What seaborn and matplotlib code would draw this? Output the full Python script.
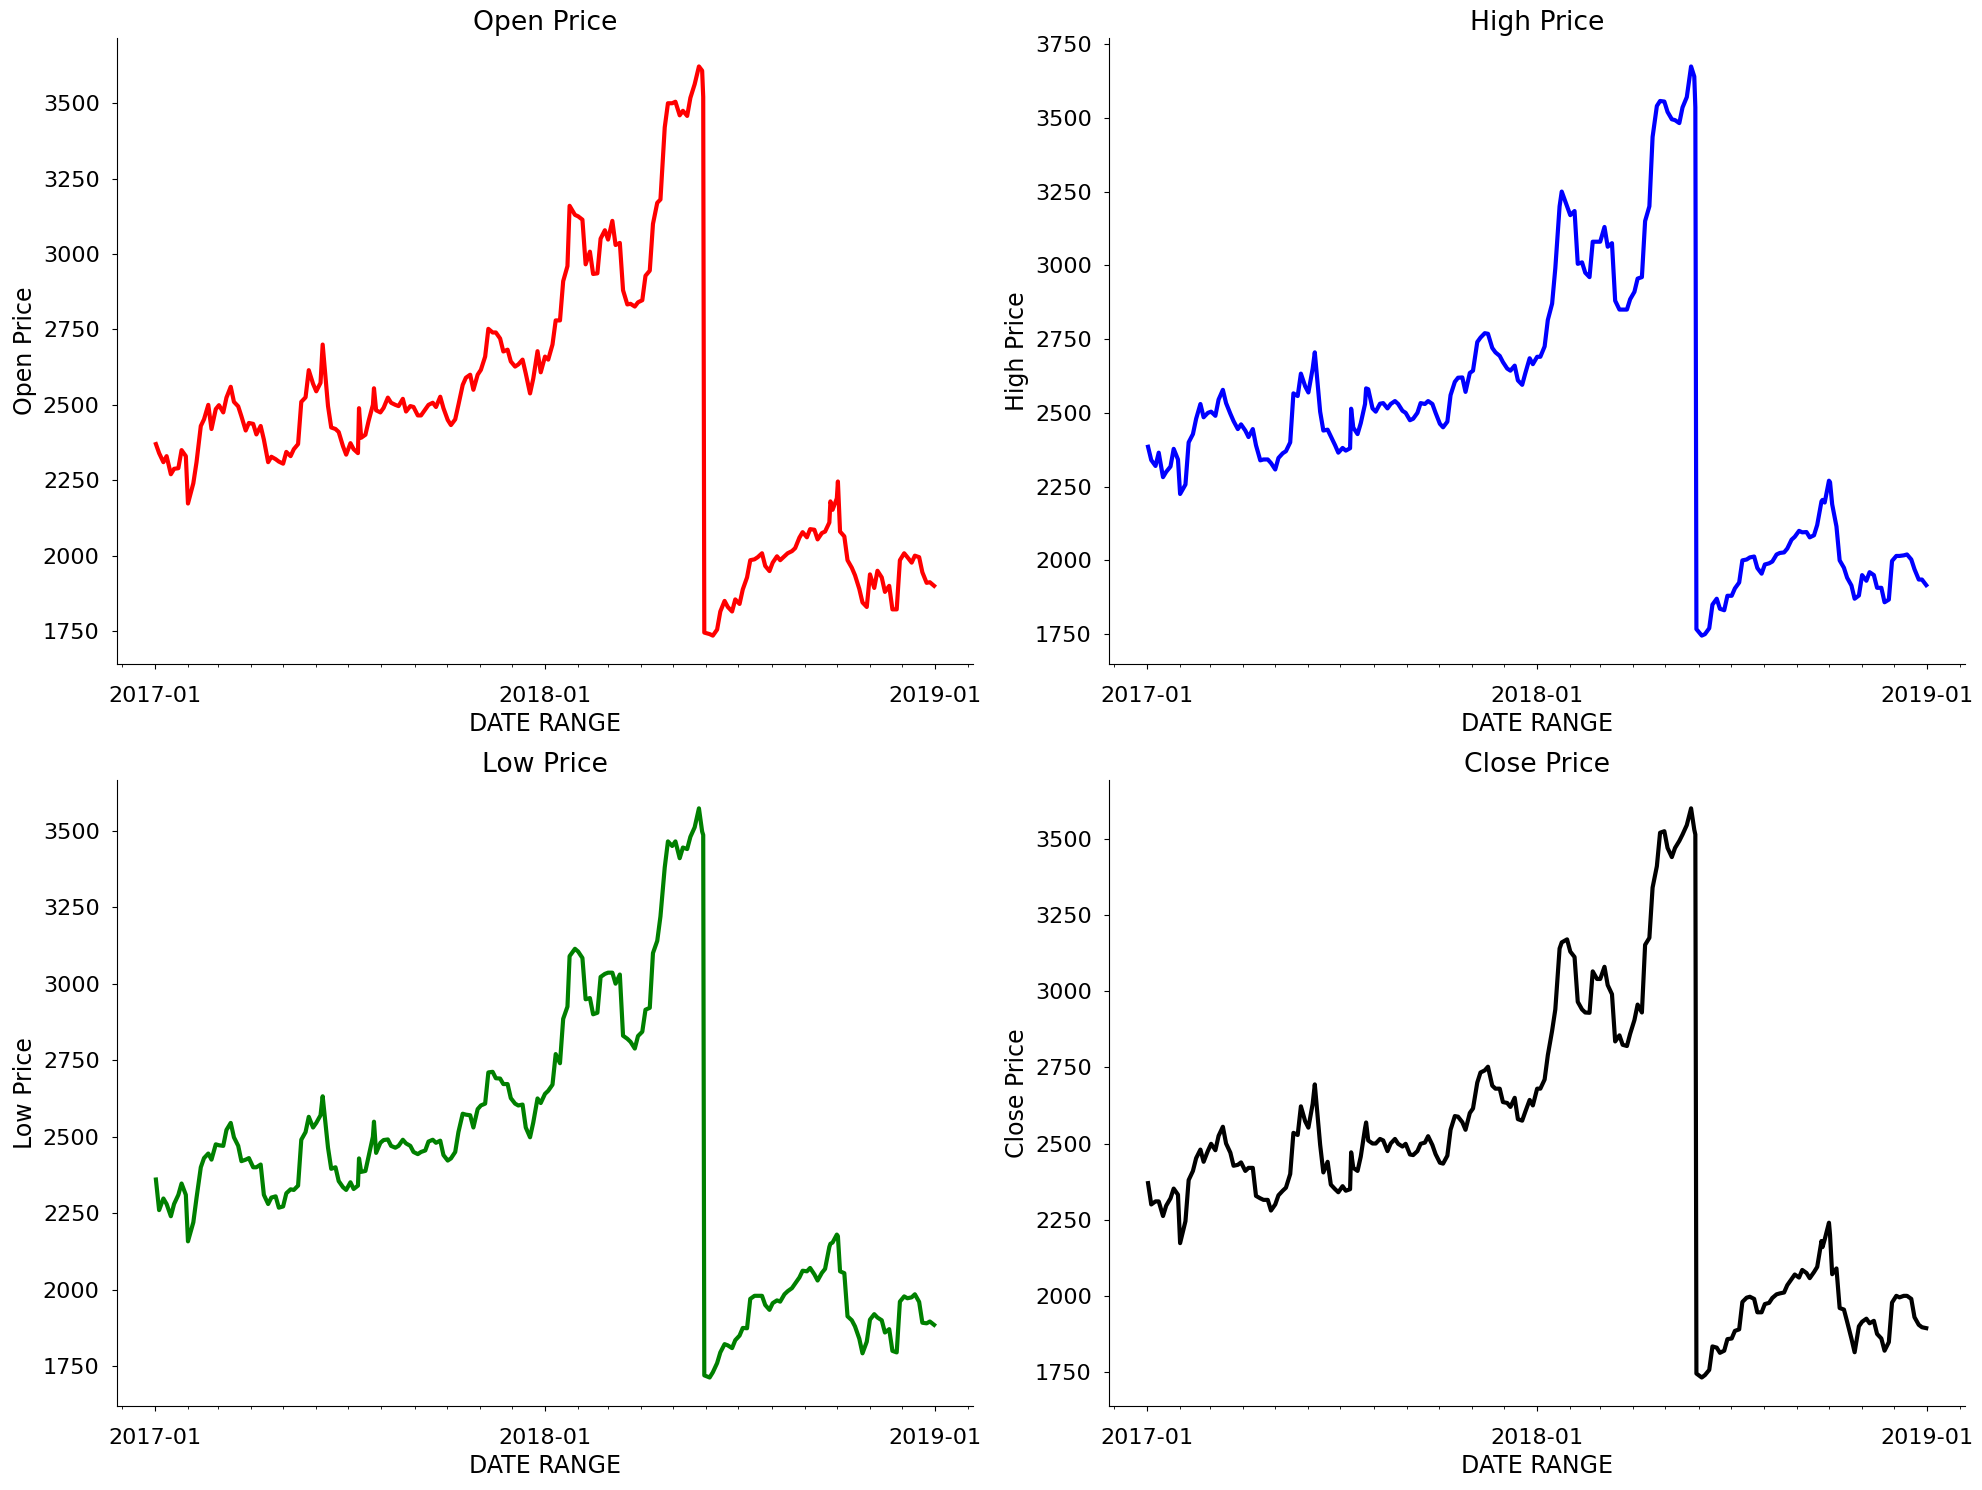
import matplotlib
matplotlib.use("Agg")
import matplotlib.pyplot as plt
import matplotlib.dates as mdates
from matplotlib.ticker import MultipleLocator
import seaborn as sns
import pandas as pd

# ---- readings on Mondays (plus a few spike / split days) ----
dates = [
    "2017-01-02", "2017-01-09", "2017-01-16", "2017-01-23", "2017-01-30",
    "2017-02-01", "2017-02-06", "2017-02-13", "2017-02-20", "2017-02-27",
    "2017-03-06", "2017-03-13", "2017-03-20", "2017-03-27",
    "2017-04-03", "2017-04-10", "2017-04-17", "2017-04-24",
    "2017-05-01", "2017-05-08", "2017-05-15", "2017-05-22", "2017-05-29",
    "2017-06-05", "2017-06-07", "2017-06-12", "2017-06-19", "2017-06-26",
    "2017-07-03", "2017-07-10", "2017-07-11", "2017-07-17", "2017-07-24", "2017-07-25", "2017-07-31",
    "2017-08-07", "2017-08-14", "2017-08-21", "2017-08-28",
    "2017-09-04", "2017-09-11", "2017-09-18", "2017-09-25",
    "2017-10-02", "2017-10-09", "2017-10-16", "2017-10-23", "2017-10-30",
    "2017-11-06", "2017-11-13", "2017-11-20", "2017-11-27",
    "2017-12-04", "2017-12-11", "2017-12-18", "2017-12-25",
    "2018-01-01", "2018-01-08", "2018-01-15", "2018-01-22", "2018-01-24", "2018-01-29",
    "2018-02-05", "2018-02-12", "2018-02-19", "2018-02-26",
    "2018-03-05", "2018-03-12", "2018-03-19", "2018-03-26",
    "2018-04-02", "2018-04-09", "2018-04-16", "2018-04-23", "2018-04-30",
    "2018-05-07", "2018-05-14", "2018-05-21", "2018-05-25", "2018-05-28", "2018-05-29", "2018-05-30",
    "2018-06-04", "2018-06-11", "2018-06-18", "2018-06-25",
    "2018-07-02", "2018-07-09", "2018-07-16", "2018-07-23", "2018-07-30",
    "2018-08-06", "2018-08-13", "2018-08-20", "2018-08-27",
    "2018-09-03", "2018-09-10", "2018-09-17", "2018-09-24", "2018-09-25",
    "2018-10-01", "2018-10-02", "2018-10-08", "2018-10-15", "2018-10-22", "2018-10-29",
    "2018-11-05", "2018-11-12", "2018-11-19", "2018-11-26",
    "2018-12-03", "2018-12-10", "2018-12-17", "2018-12-24", "2018-12-31",
]

open_price = [
    2370, 2310, 2270, 2290, 2330,
    2173, 2240, 2430, 2500, 2486,
    2475, 2560, 2495, 2415,
    2437, 2430, 2310, 2320,
    2305, 2330, 2370, 2525, 2570,
    2573, 2700, 2496, 2420, 2363,
    2373, 2340, 2489, 2401, 2500, 2555, 2475,
    2524, 2500, 2520, 2496,
    2465, 2485, 2507, 2527,
    2450, 2452, 2566, 2600, 2600,
    2660, 2740, 2720, 2683,
    2627, 2650, 2538, 2678,
    2660, 2700, 2780, 2960, 3160, 3130,
    3114, 3008, 2936, 3079,
    3110, 3037, 2833, 2826,
    2847, 2945, 3170, 3420, 3500,
    3460, 3458, 3563, 3622, 3608, 3521, 1745,
    1740, 1755, 1850, 1815,
    1840, 1928, 1988, 2008, 1949,
    1998, 1998, 2015, 2060,
    2061, 2086, 2075, 2110, 2180,
    2190, 2246, 2064, 1960, 1890, 1830,
    1893, 1928, 1900, 1822,
    2008, 1977, 1995, 1910, 1900,
]

high_price = [
    2385, 2320, 2282, 2318, 2342,
    2225, 2257, 2428, 2530, 2500,
    2490, 2578, 2497, 2445,
    2440, 2445, 2339, 2342,
    2308, 2363, 2400, 2557, 2590,
    2650, 2705, 2504, 2443, 2390,
    2381, 2380, 2514, 2428, 2530, 2583, 2515,
    2531, 2515, 2540, 2507,
    2475, 2500, 2530, 2530,
    2463, 2470, 2605, 2620, 2635,
    2740, 2770, 2720, 2693,
    2650, 2660, 2595, 2685,
    2690, 2725, 2870, 3200, 3250, 3200,
    3184, 3010, 2960, 3080,
    3130, 3075, 2850, 2850,
    2910, 2960, 3200, 3540, 3555,
    3495, 3482, 3570, 3674, 3640, 3535, 1767,
    1745, 1770, 1870, 1831,
    1880, 1925, 2003, 2013, 1955,
    1990, 2020, 2027, 2070,
    2100, 2096, 2085, 2200, 2205,
    2270, 2265, 2115, 1975, 1915, 1881,
    1931, 1950, 1907, 1867,
    2015, 2017, 2003, 1935, 1916,
]

low_price = [
    2360, 2298, 2240, 2310, 2310,
    2158, 2220, 2400, 2445, 2475,
    2470, 2545, 2470, 2425,
    2400, 2409, 2280, 2305,
    2272, 2328, 2340, 2515, 2530,
    2570, 2632, 2464, 2400, 2335,
    2351, 2340, 2429, 2388, 2500, 2549, 2480,
    2491, 2464, 2490, 2470,
    2443, 2455, 2490, 2487,
    2422, 2450, 2575, 2570, 2590,
    2608, 2712, 2690, 2672,
    2608, 2605, 2498, 2625,
    2640, 2670, 2740, 2925, 3090, 3114,
    3084, 2953, 2905, 3032,
    3036, 3030, 2820, 2788,
    2843, 2921, 3140, 3380, 3450,
    3410, 3440, 3511, 3573, 3497, 3486, 1720,
    1713, 1760, 1822, 1809,
    1850, 1874, 1980, 1980, 1934,
    1965, 1985, 2005, 2040,
    2060, 2050, 2055, 2140, 2150,
    2180, 2175, 2054, 1900, 1840, 1830,
    1920, 1900, 1871, 1795,
    1978, 1975, 1960, 1890, 1885,
]

close_price = [
    2370, 2310, 2262, 2320, 2332,
    2173, 2245, 2410, 2480, 2476,
    2478, 2555, 2470, 2430,
    2410, 2420, 2320, 2315,
    2300, 2345, 2400, 2528, 2573,
    2630, 2694, 2496, 2440, 2350,
    2360, 2350, 2471, 2410, 2550, 2569, 2500,
    2515, 2475, 2515, 2490,
    2464, 2475, 2503, 2495,
    2437, 2460, 2590, 2570, 2600,
    2700, 2740, 2690, 2680,
    2633, 2650, 2575, 2643,
    2680, 2710, 2870, 3140, 3160, 3170,
    3112, 2940, 2929, 3040,
    3080, 2990, 2855, 2820,
    2905, 2930, 3175, 3410, 3525,
    3440, 3493, 3545, 3600, 3530, 3514, 1745,
    1732, 1757, 1830, 1820,
    1860, 1890, 1994, 1990, 1946,
    1977, 2005, 2011, 2055,
    2060, 2075, 2078, 2180, 2160,
    2240, 2200, 2090, 1955, 1860, 1900,
    1925, 1918, 1860, 1848,
    2000, 2000, 1990, 1905, 1894,
]

# ---- readings on Thursdays ----
thu_dates = [
    "2017-01-05", "2017-01-12", "2017-01-19", "2017-01-26",
    "2017-02-09", "2017-02-16", "2017-02-23",
    "2017-03-02", "2017-03-09", "2017-03-16", "2017-03-23", "2017-03-30",
    "2017-04-06", "2017-04-13", "2017-04-20", "2017-04-27",
    "2017-05-04", "2017-05-11", "2017-05-18", "2017-05-25",
    "2017-06-01", "2017-06-15", "2017-06-22", "2017-06-29",
    "2017-07-06", "2017-07-13", "2017-07-20", "2017-07-27",
    "2017-08-03", "2017-08-10", "2017-08-17", "2017-08-24", "2017-08-31",
    "2017-09-07", "2017-09-14", "2017-09-21", "2017-09-28",
    "2017-10-05", "2017-10-12", "2017-10-19", "2017-10-26",
    "2017-11-02", "2017-11-09", "2017-11-16", "2017-11-23", "2017-11-30",
    "2017-12-07", "2017-12-14", "2017-12-21", "2017-12-28",
    "2018-01-04", "2018-01-11", "2018-01-18",
    "2018-02-01", "2018-02-08", "2018-02-15", "2018-02-22",
    "2018-03-01", "2018-03-08", "2018-03-15", "2018-03-22", "2018-03-29",
    "2018-04-05", "2018-04-12", "2018-04-19", "2018-04-26",
    "2018-05-03", "2018-05-10", "2018-05-17",
    "2018-06-07", "2018-06-14", "2018-06-21", "2018-06-28",
    "2018-07-05", "2018-07-12", "2018-07-19", "2018-07-26",
    "2018-08-02", "2018-08-09", "2018-08-16", "2018-08-23", "2018-08-30",
    "2018-09-06", "2018-09-13", "2018-09-20", "2018-09-27",
    "2018-10-04", "2018-10-11", "2018-10-18", "2018-10-25",
    "2018-11-01", "2018-11-08", "2018-11-15", "2018-11-22", "2018-11-29",
    "2018-12-06", "2018-12-13", "2018-12-20", "2018-12-27",
]

thu_open = [
    2340, 2330, 2288, 2350,
    2310, 2452, 2420,
    2499, 2524, 2510, 2462, 2440,
    2402, 2385, 2328, 2312,
    2344, 2353, 2510, 2615,
    2545, 2425, 2410, 2335,
    2353, 2391, 2447, 2482,
    2490, 2507, 2496, 2478, 2493,
    2465, 2500, 2493, 2489,
    2433, 2500, 2590, 2550,
    2616, 2752, 2740, 2677, 2644,
    2634, 2604, 2587, 2608,
    2650, 2780, 2910,
    3125, 2966, 2934, 3051,
    3048, 3030, 2880, 2835, 2840,
    2928, 3100, 3181, 3500,
    3505, 3475, 3518,
    1735, 1815, 1830, 1855,
    1888, 1985, 1995, 1966,
    1977, 1985, 2008, 2025, 2078,
    2088, 2054, 2080, 2152,
    2080, 1985, 1935, 1845,
    1938, 1950, 1880, 1822, 1985,
    1995, 2000, 1945, 1912,
]

thu_high = [
    2340, 2365, 2300, 2378,
    2400, 2480, 2485,
    2504, 2545, 2533, 2472, 2461,
    2418, 2390, 2342, 2330,
    2347, 2370, 2566, 2633,
    2569, 2440, 2420, 2365,
    2372, 2450, 2465, 2580,
    2504, 2533, 2530, 2530, 2500,
    2480, 2533, 2540, 2500,
    2451, 2560, 2619, 2571,
    2643, 2755, 2768, 2705, 2672,
    2643, 2610, 2635, 2665,
    2690, 2815, 2990,
    3170, 3005, 2975, 3080,
    3080, 3063, 2880, 2850, 2885,
    2955, 3150, 3435, 3557,
    3520, 3492, 3535,
    1750, 1850, 1836, 1880,
    1905, 2000, 2010, 1974,
    1986, 1996, 2025, 2040, 2080,
    2095, 2078, 2120, 2196,
    2190, 2000, 1941, 1870,
    1950, 1960, 1907, 1858, 1998,
    2015, 2020, 1970, 1935,
]

thu_low = [
    2260, 2280, 2280, 2347,
    2300, 2430, 2425,
    2472, 2522, 2498, 2420, 2430,
    2400, 2310, 2301, 2268,
    2315, 2326, 2490, 2565,
    2545, 2395, 2355, 2326,
    2329, 2385, 2436, 2447,
    2489, 2470, 2470, 2478, 2450,
    2450, 2484, 2480, 2440,
    2429, 2515, 2572, 2530,
    2602, 2710, 2691, 2672, 2626,
    2602, 2530, 2546, 2610,
    2650, 2770, 2885,
    3105, 2949, 2900, 3022,
    3036, 3000, 2830, 2810, 2829,
    2915, 3100, 3220, 3465,
    3465, 3445, 3480,
    1730, 1795, 1818, 1835,
    1875, 1970, 1980, 1950,
    1956, 1961, 1995, 2020, 2062,
    2071, 2030, 2068, 2154,
    2060, 1913, 1880, 1792,
    1902, 1909, 1860, 1800, 1961,
    1972, 1985, 1892, 1896,
]

thu_close = [
    2300, 2310, 2296, 2352,
    2380, 2452, 2440,
    2499, 2525, 2500, 2427, 2438,
    2420, 2328, 2315, 2280,
    2330, 2355, 2535, 2622,
    2552, 2405, 2365, 2340,
    2345, 2420, 2457, 2510,
    2500, 2510, 2500, 2499, 2499,
    2462, 2499, 2524, 2465,
    2434, 2545, 2588, 2545,
    2615, 2733, 2752, 2680, 2636,
    2620, 2580, 2605, 2625,
    2680, 2790, 2940,
    3130, 2965, 2930, 3065,
    3040, 3020, 2835, 2824, 2860,
    2956, 3152, 3340, 3520,
    3470, 3470, 3514,
    1740, 1834, 1813, 1858,
    1885, 1980, 1997, 1946,
    1973, 1993, 2008, 2035, 2070,
    2085, 2058, 2095, 2185,
    2071, 1960, 1915, 1815,
    1915, 1910, 1875, 1820, 1978,
    1995, 2000, 1930, 1897,
]

df = pd.concat([
    pd.DataFrame({"Date": pd.to_datetime(dates), "Open": open_price,
                  "High": high_price, "Low": low_price, "Close": close_price}),
    pd.DataFrame({"Date": pd.to_datetime(thu_dates), "Open": thu_open,
                  "High": thu_high, "Low": thu_low, "Close": thu_close}),
]).sort_values("Date").reset_index(drop=True)

plt.rcParams["font.family"] = ["DejaVu Sans"]
plt.rcParams["font.size"] = 16

fig, axes = plt.subplots(2, 2, figsize=(19.83, 14.90), dpi=100)
fig.subplots_adjust(left=0.059, right=0.991, top=0.9745, bottom=0.0564,
                    wspace=0.159, hspace=0.185)

panels = [("Open", "Open Price", "red"),
          ("High", "High Price", "blue"),
          ("Low", "Low Price", "green"),
          ("Close", "Close Price", "black")]

for ax, (col, title, color) in zip(axes.flat, panels):
    sns.lineplot(data=df, x="Date", y=col, ax=ax, color=color, linewidth=3.0)
    ax.set_title(title, fontsize=19.2)
    ax.set_xlabel("DATE RANGE", fontsize=17)
    ax.set_ylabel(title, fontsize=17)
    ax.xaxis.set_major_locator(mdates.YearLocator())
    ax.xaxis.set_minor_locator(mdates.MonthLocator())
    ax.xaxis.set_major_formatter(mdates.DateFormatter("%Y-%m"))
    ax.yaxis.set_major_locator(MultipleLocator(250))
    ax.tick_params(axis="x", which="major", pad=12.5, labelsize=16)
    ax.tick_params(axis="y", which="major", pad=9, labelsize=16)
    sns.despine(ax=ax)

fig.savefig("out.png", dpi=100)
